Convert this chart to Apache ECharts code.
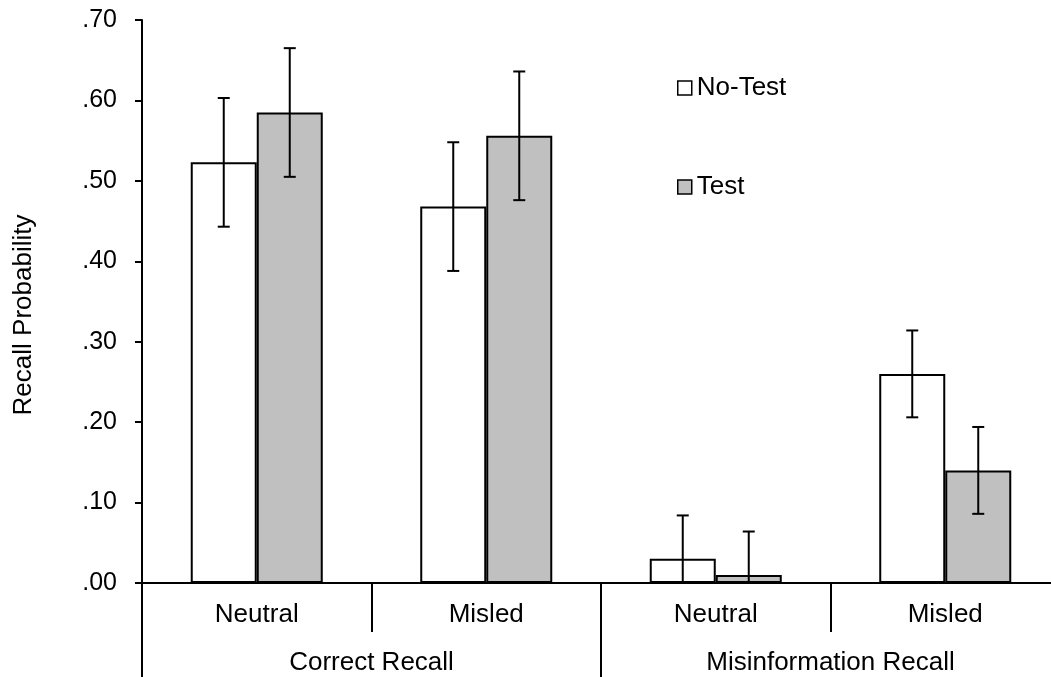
<!DOCTYPE html>
<html>
<head>
<meta charset="utf-8">
<script src="https://cdn.jsdelivr.net/npm/echarts@6/dist/echarts.min.js"></script>
<style>
html,body{margin:0;padding:0;background:#fff;overflow:hidden;width:1051px;height:677px;}
#chart{width:1060px;height:677px;}
</style>
</head>
<body>
<div id="chart"></div>
<script>
const categories = ['Neutral', 'Misled', 'Neutral', 'Misled'];
const groups = ['Correct Recall', 'Misinformation Recall'];
const seriesNames = ['No-Test', 'Test'];
const noTest = [0.523, 0.468, 0.030, 0.260];
const test = [0.585, 0.556, 0.010, 0.140];
const noTestErr = [0.080, 0.080, 0.054, 0.054];
const testErr = [0.080, 0.080, 0.054, 0.054];
const yTitle = 'Recall Probability';

const FONT = "'Liberation Sans', Arial, sans-serif";
const FS = 26;
const FS_TICK = 25;
const BAR_FRAC = 0.2876;

function errData(vals, errs) {
  return vals.map((v, i) => [i, v, errs[i]]);
}
function makeErr(side) {
  return function (params, api) {
    const x = api.value(0), v = api.value(1), e = api.value(2);
    const band = api.size([1, 0])[0];
    const off = side * band * BAR_FRAC / 2;
    const top = api.coord([x, v + e]);
    const lowV = Math.max(0, v - e);
    const low = api.coord([x, lowV]);
    const cx = top[0] + off;
    const cap = 6;
    const st = { stroke: '#000', lineWidth: 2 };
    const children = [
      { type: 'line', shape: { x1: cx, y1: top[1], x2: cx, y2: low[1] }, style: st },
      { type: 'line', shape: { x1: cx - cap, y1: top[1], x2: cx + cap, y2: top[1] }, style: st }
    ];
    if (v - e > 0) {
      children.push({ type: 'line', shape: { x1: cx - cap, y1: low[1], x2: cx + cap, y2: low[1] }, style: st });
    }
    return { type: 'group', children: children };
  };
}

const chart = echarts.init(document.getElementById('chart'), null, { renderer: 'canvas' });
chart.setOption({
  animation: false,
  backgroundColor: '#fff',
  textStyle: { fontFamily: FONT, color: '#000' },
  grid: { left: 142, top: 20, right: 0, bottom: 94, containLabel: false },
  legend: [
    {
      data: [seriesNames[0]], left: 677, top: 75, padding: 0,
      icon: 'rect', itemWidth: 14, itemHeight: 14,
      itemStyle: { borderColor: '#000', borderWidth: 1.5 },
      textStyle: { fontFamily: FONT, fontSize: FS, color: '#000' }, selectedMode: false
    },
    {
      data: [seriesNames[1]], left: 677, top: 174, padding: 0,
      icon: 'rect', itemWidth: 14, itemHeight: 14,
      itemStyle: { borderColor: '#000', borderWidth: 1.5 },
      textStyle: { fontFamily: FONT, fontSize: FS, color: '#000' }, selectedMode: false
    }
  ],
  xAxis: [
    {
      type: 'category', data: categories, position: 'bottom', boundaryGap: true,
      axisLine: { show: true, lineStyle: { color: '#000', width: 2 } },
      axisTick: { show: true, interval: 0, inside: false, length: 49, lineStyle: { color: '#000', width: 2 } },
      axisLabel: { interval: 0, margin: 19, fontFamily: FONT, fontSize: FS, color: '#000' },
      splitLine: { show: false }
    },
    {
      type: 'category', data: groups, position: 'bottom', boundaryGap: true,
      axisLine: { show: false },
      axisTick: { show: true, interval: 0, inside: false, length: 94, lineStyle: { color: '#000', width: 2 } },
      axisLabel: { interval: 0, margin: 67, fontFamily: FONT, fontSize: FS, color: '#000' },
      splitLine: { show: false }
    }
  ],
  yAxis: {
    type: 'value', min: 0, max: 0.7, interval: 0.1,
    axisLine: { show: true, lineStyle: { color: '#000', width: 2 } },
    axisTick: { show: true, inside: false, length: 7, lineStyle: { color: '#000', width: 2 } },
    axisLabel: {
      margin: 25, fontFamily: FONT, fontSize: FS_TICK, color: '#000',
      formatter: v => v.toFixed(2).replace(/^0/, '')
    },
    splitLine: { show: false }
  },
  graphic: [
    {
      type: 'text', x: 24, y: 315, rotation: Math.PI / 2,
      style: { text: yTitle, font: FS + 'px ' + FONT, fill: '#000', align: 'center', verticalAlign: 'middle' }
    }
  ],
  series: [
    {
      name: seriesNames[0], type: 'bar', data: noTest, barWidth: (BAR_FRAC * 100) + '%', barGap: '0%',
      itemStyle: { color: '#ffffff', borderColor: '#000', borderWidth: 2 }
    },
    {
      name: seriesNames[1], type: 'bar', data: test, barWidth: (BAR_FRAC * 100) + '%', barGap: '0%',
      itemStyle: { color: '#c0c0c0', borderColor: '#000', borderWidth: 2 }
    },
    {
      name: 'errNoTest', type: 'custom', z: 5, renderItem: makeErr(-1),
      encode: { x: 0, y: 1 }, data: errData(noTest, noTestErr)
    },
    {
      name: 'errTest', type: 'custom', z: 5, renderItem: makeErr(1),
      encode: { x: 0, y: 1 }, data: errData(test, testErr)
    }
  ]
});
</script>
</body>
</html>
